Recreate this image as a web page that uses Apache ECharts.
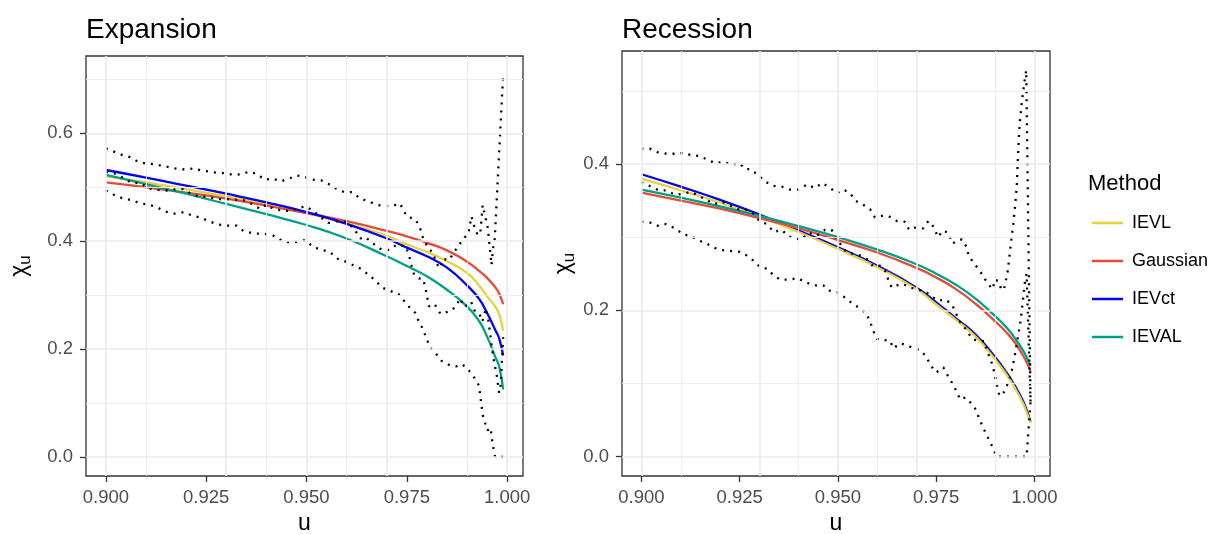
<!DOCTYPE html>
<html><head><meta charset="utf-8">
<script src="https://cdn.jsdelivr.net/npm/echarts@6.0.0/dist/echarts.min.js"></script>
<style>html,body{margin:0;padding:0;background:#fff}#c{width:1217px;height:534px}</style>
</head><body><div id="c"></div><script>
// ---------------- DATA ----------------
const methods = ['IEVL', 'Gaussian', 'IEVct', 'IEVAL'];

const xTicks = [0.9, 0.925, 0.95, 0.975, 1.0];
const xMinor = [0.9125, 0.9375, 0.9625, 0.9875];
const expYTicks = [0, 0.2, 0.4, 0.6];
const expYMinor = [0.1, 0.3, 0.5, 0.7];
const recYTicks = [0, 0.2, 0.4];
const recYMinor = [0.1, 0.3, 0.5];

// model curves, sampled at uCurve
const uCurve = [0.900, 0.910, 0.920, 0.930, 0.940, 0.950, 0.960, 0.970, 0.975, 0.980, 0.985, 0.990, 0.993, 0.995, 0.997, 0.998, 0.999];

const expIEVL     = [0.520, 0.509, 0.496, 0.483, 0.468, 0.452, 0.433, 0.410, 0.394, 0.380, 0.363, 0.341, 0.318, 0.298, 0.279, 0.265, 0.234];
const expGaussian = [0.509, 0.500, 0.490, 0.479, 0.466, 0.452, 0.437, 0.419, 0.409, 0.397, 0.383, 0.362, 0.345, 0.332, 0.315, 0.303, 0.283];
const expIEVct    = [0.532, 0.518, 0.503, 0.488, 0.472, 0.454, 0.432, 0.405, 0.388, 0.372, 0.351, 0.318, 0.293, 0.267, 0.236, 0.220, 0.188];
const expIEVAL    = [0.523, 0.506, 0.488, 0.469, 0.450, 0.430, 0.405, 0.372, 0.354, 0.335, 0.310, 0.279, 0.252, 0.223, 0.186, 0.168, 0.125];

const recIEVL     = [0.380, 0.364, 0.347, 0.328, 0.307, 0.284, 0.259, 0.229, 0.208, 0.187, 0.164, 0.133, 0.111, 0.094, 0.074, 0.061, 0.046];
const recGaussian = [0.361, 0.350, 0.339, 0.326, 0.312, 0.296, 0.279, 0.258, 0.245, 0.229, 0.209, 0.185, 0.169, 0.156, 0.139, 0.129, 0.117];
const recIEVct    = [0.386, 0.369, 0.351, 0.331, 0.309, 0.286, 0.261, 0.231, 0.211, 0.189, 0.167, 0.136, 0.114, 0.097, 0.077, 0.064, 0.048];
const recIEVAL    = [0.365, 0.354, 0.342, 0.329, 0.315, 0.300, 0.283, 0.263, 0.250, 0.235, 0.216, 0.192, 0.176, 0.162, 0.146, 0.136, 0.124];

// empirical estimate and confidence bounds (dotted)
const expUpperU = [0.9000,0.9020,0.9040,0.9060,0.9079,0.9099,0.9119,0.9139,0.9159,0.9179,0.9199,0.9218,0.9238,0.9257,0.9277,0.9297,0.9317,0.9337,0.9357,0.9376,0.9396,0.9416,0.9436,0.9456,0.9476,0.9496,0.9516,0.9536,0.9555,0.9575,0.9594,0.9614,0.9634,0.9654,0.9673,0.9693,0.9713,0.9733,0.9750,0.9772,0.9783,0.9790,0.9801,0.9815,0.9824,0.9832,0.9840,0.9855,0.9869,0.9882,0.9894,0.9903,0.9911,0.9918,0.9926,0.9933,0.9939,0.9946,0.9951,0.9954,0.9959,0.9961,0.9965,0.9969,0.9990];
const expUpperV = [0.572,0.566,0.560,0.556,0.548,0.544,0.543,0.540,0.537,0.534,0.533,0.535,0.531,0.529,0.527,0.526,0.523,0.524,0.529,0.525,0.514,0.516,0.511,0.516,0.522,0.519,0.514,0.513,0.506,0.497,0.491,0.491,0.479,0.474,0.468,0.465,0.465,0.470,0.446,0.440,0.424,0.407,0.390,0.378,0.359,0.350,0.367,0.365,0.381,0.395,0.407,0.413,0.446,0.428,0.412,0.413,0.467,0.444,0.427,0.409,0.372,0.356,0.387,0.404,0.708];

const expEmpU = [0.9000,0.9020,0.9044,0.9065,0.9086,0.9106,0.9131,0.9152,0.9173,0.9194,0.9214,0.9235,0.9252,0.9277,0.9301,0.9322,0.9343,0.9364,0.9384,0.9401,0.9417,0.9438,0.9459,0.9476,0.9497,0.9517,0.9538,0.9555,0.9575,0.9596,0.9617,0.9634,0.9646,0.9663,0.9688,0.9708,0.9725,0.9748,0.9756,0.9762,0.9768,0.9780,0.9791,0.9797,0.9805,0.9816,0.9822,0.9834,0.9857,0.9873,0.9882,0.9894,0.9910,0.9918,0.9930,0.9938,0.9947,0.9952,0.9959,0.9965,0.9974,0.9980,0.9984,0.9990];
const expEmpV = [0.528,0.526,0.517,0.508,0.508,0.498,0.495,0.494,0.496,0.497,0.487,0.482,0.483,0.478,0.478,0.477,0.476,0.469,0.460,0.468,0.460,0.457,0.456,0.460,0.465,0.456,0.443,0.434,0.437,0.436,0.425,0.405,0.408,0.397,0.384,0.384,0.394,0.390,0.372,0.354,0.338,0.331,0.330,0.311,0.279,0.284,0.280,0.265,0.270,0.279,0.294,0.278,0.288,0.272,0.267,0.251,0.275,0.260,0.220,0.186,0.152,0.119,0.134,0.222];

const expLowerU = [0.9000,0.9023,0.9044,0.9065,0.9086,0.9106,0.9127,0.9148,0.9173,0.9194,0.9214,0.9239,0.9260,0.9281,0.9301,0.9326,0.9343,0.9368,0.9393,0.9414,0.9434,0.9455,0.9476,0.9497,0.9517,0.9538,0.9559,0.9575,0.9592,0.9615,0.9638,0.9654,0.9671,0.9688,0.9708,0.9729,0.9753,0.9771,0.9780,0.9791,0.9799,0.9809,0.9823,0.9837,0.9857,0.9873,0.9888,0.9905,0.9919,0.9930,0.9933,0.9939,0.9945,0.9951,0.9959,0.9961,0.9965,0.9970,0.9990];
const expLowerV = [0.494,0.485,0.479,0.476,0.470,0.468,0.463,0.455,0.451,0.454,0.448,0.443,0.436,0.431,0.429,0.429,0.419,0.414,0.414,0.412,0.403,0.398,0.399,0.402,0.389,0.384,0.380,0.368,0.364,0.356,0.348,0.338,0.328,0.314,0.308,0.302,0.280,0.267,0.251,0.236,0.219,0.202,0.191,0.178,0.170,0.168,0.172,0.160,0.146,0.132,0.114,0.078,0.063,0.049,0.054,0.038,0.019,0.000,0.000];

const recUpperU = [0.9000,0.9021,0.9041,0.9063,0.9085,0.9106,0.9127,0.9148,0.9167,0.9188,0.9209,0.9230,0.9250,0.9264,0.9278,0.9298,0.9315,0.9336,0.9357,0.9378,0.9400,0.9421,0.9442,0.9459,0.9479,0.9497,0.9514,0.9531,0.9544,0.9565,0.9582,0.9594,0.9611,0.9628,0.9650,0.9671,0.9681,0.9694,0.9717,0.9730,0.9738,0.9747,0.9755,0.9766,0.9781,0.9792,0.9802,0.9815,0.9828,0.9832,0.9845,0.9860,0.9872,0.9887,0.9894,0.9899,0.9908,0.9916,0.9922,0.9927,0.9932,0.9940,0.9946,0.9951,0.9955,0.9958,0.9960,0.9963,0.9968,0.9974,0.9979,0.9990];
const recUpperV = [0.421,0.421,0.416,0.414,0.414,0.415,0.412,0.411,0.406,0.401,0.403,0.399,0.401,0.393,0.393,0.384,0.376,0.370,0.369,0.365,0.365,0.372,0.367,0.374,0.368,0.360,0.365,0.360,0.350,0.344,0.338,0.327,0.329,0.329,0.322,0.321,0.310,0.313,0.312,0.322,0.319,0.309,0.300,0.309,0.306,0.291,0.295,0.297,0.286,0.275,0.265,0.255,0.244,0.233,0.229,0.242,0.240,0.228,0.228,0.240,0.254,0.292,0.318,0.344,0.370,0.409,0.434,0.459,0.485,0.511,0.528,0.075];

const recEmpU = [0.9000,0.9021,0.9044,0.9063,0.9085,0.9106,0.9125,0.9145,0.9165,0.9185,0.9207,0.9226,0.9247,0.9264,0.9283,0.9300,0.9319,0.9336,0.9357,0.9374,0.9395,0.9406,0.9425,0.9446,0.9467,0.9484,0.9495,0.9510,0.9522,0.9539,0.9556,0.9573,0.9590,0.9607,0.9620,0.9628,0.9637,0.9649,0.9666,0.9683,0.9699,0.9713,0.9726,0.9741,0.9756,0.9773,0.9790,0.9801,0.9811,0.9826,0.9841,0.9858,0.9872,0.9879,0.9889,0.9896,0.9905,0.9911,0.9922,0.9930,0.9939,0.9945,0.9954,0.9964,0.9971,0.9976,0.9980,0.9990];
const recEmpV = [0.375,0.370,0.364,0.364,0.358,0.359,0.362,0.357,0.351,0.345,0.348,0.343,0.338,0.338,0.333,0.322,0.318,0.307,0.310,0.301,0.298,0.296,0.306,0.302,0.310,0.310,0.298,0.288,0.279,0.277,0.275,0.270,0.260,0.261,0.254,0.242,0.231,0.234,0.236,0.231,0.229,0.227,0.224,0.218,0.213,0.215,0.208,0.195,0.184,0.174,0.161,0.158,0.158,0.145,0.132,0.119,0.097,0.083,0.088,0.097,0.110,0.124,0.151,0.183,0.215,0.240,0.250,0.075];

const recLowerU = [0.9000,0.9021,0.9044,0.9063,0.9085,0.9106,0.9127,0.9148,0.9167,0.9188,0.9209,0.9230,0.9250,0.9268,0.9285,0.9302,0.9319,0.9336,0.9353,0.9377,0.9397,0.9419,0.9440,0.9463,0.9476,0.9497,0.9514,0.9533,0.9552,0.9572,0.9582,0.9590,0.9599,0.9611,0.9633,0.9641,0.9658,0.9677,0.9696,0.9709,0.9724,0.9737,0.9750,0.9768,0.9777,0.9790,0.9801,0.9811,0.9824,0.9837,0.9848,0.9862,0.9869,0.9879,0.9889,0.9904,0.9980,0.9990];
const recLowerV = [0.321,0.320,0.315,0.318,0.312,0.304,0.301,0.295,0.291,0.285,0.282,0.281,0.280,0.275,0.268,0.259,0.257,0.248,0.242,0.242,0.244,0.238,0.234,0.234,0.227,0.225,0.219,0.211,0.204,0.196,0.184,0.172,0.161,0.160,0.158,0.148,0.155,0.152,0.147,0.146,0.137,0.124,0.115,0.122,0.113,0.101,0.090,0.078,0.081,0.074,0.067,0.049,0.040,0.029,0.018,0.000,0.000,0.075];

// ---------------- STYLE ----------------
const FONT = '"Liberation Sans", Arial, Helvetica, sans-serif';
const methodColor = { IEVL: '#E6D23C', Gaussian: '#E64B35', IEVct: '#0000FF', IEVAL: '#00A087' };

const zip = (u, v) => u.map((x, i) => [x, v[i]]);

function gridLinesSeries(idx, yMajor, yMinor) {
  const major = { color: '#EBEBEB', width: 1.7, type: 'solid' };
  const minor = { color: '#EBEBEB', width: 0.9, type: 'solid' };
  const data = [];
  yMinor.forEach(v => data.push({ yAxis: v, lineStyle: minor }));
  xMinor.forEach(v => data.push({ xAxis: v, lineStyle: minor }));
  yMajor.forEach(v => data.push({ yAxis: v, lineStyle: major }));
  xTicks.forEach(v => data.push({ xAxis: v, lineStyle: major }));
  return {
    type: 'line', xAxisIndex: idx, yAxisIndex: idx, data: [], z: 1, silent: true,
    markLine: { silent: true, symbol: ['none', 'none'], label: { show: false }, animation: false,
      emphasis: { disabled: true }, data: data }
  };
}

function curveSeries(idx, name, vals) {
  return {
    type: 'line', name: name, xAxisIndex: idx, yAxisIndex: idx,
    data: zip(uCurve, vals), showSymbol: false, symbol: 'none',
    smooth: 0.5, color: methodColor[name],
    lineStyle: { width: 2.3, color: methodColor[name] }, z: 3
  };
}

function dotSeries(idx, u, v) {
  return {
    type: 'line', xAxisIndex: idx, yAxisIndex: idx, data: zip(u, v),
    showSymbol: false, symbol: 'none', silent: true,
    lineStyle: { width: 2.3, color: '#000', type: [2, 6], cap: 'butt' }, z: 4
  };
}

function xAxisCfg(idx) {
  return {
    type: 'value', gridIndex: idx, min: 0.89505, max: 1.00395,
    name: 'u', nameLocation: 'middle', nameGap: 32,
    nameTextStyle: { fontSize: 23, color: '#000', fontFamily: FONT },
    axisLine: { show: false, onZero: false },
    axisTick: { show: true, length: 6, customValues: xTicks, lineStyle: { color: '#333', width: 1.3 } },
    axisLabel: { show: true, customValues: xTicks, margin: 12, fontSize: 18.5, color: '#4D4D4D', fontFamily: FONT,
      formatter: v => v.toFixed(3) },
    splitLine: { show: false }
  };
}

function yAxisCfg(idx, min, max, ticks, gap) {
  return {
    type: 'value', gridIndex: idx, min: min, max: max,
    name: '{c|χ}{s|u}', nameLocation: 'middle', nameGap: gap, nameRotate: 90,
    nameTextStyle: { rich: {
      c: { fontSize: 23, color: '#000', fontFamily: FONT, lineHeight: 28 },
      s: { fontSize: 17, color: '#000', fontFamily: FONT, lineHeight: 12, verticalAlign: 'bottom' } } },
    axisLine: { show: false, onZero: false },
    axisTick: { show: true, length: 6, customValues: ticks, lineStyle: { color: '#333', width: 1.3 } },
    axisLabel: { show: true, customValues: ticks, margin: 13, fontSize: 18.5, color: '#4D4D4D', fontFamily: FONT,
      formatter: v => v.toFixed(1) },
    splitLine: { show: false }
  };
}

const series = [
  gridLinesSeries(0, expYTicks, expYMinor),
  gridLinesSeries(1, recYTicks, recYMinor),
  curveSeries(0, 'IEVL', expIEVL), curveSeries(0, 'Gaussian', expGaussian),
  curveSeries(0, 'IEVct', expIEVct), curveSeries(0, 'IEVAL', expIEVAL),
  curveSeries(1, 'IEVct', recIEVct), curveSeries(1, 'IEVL', recIEVL),
  curveSeries(1, 'Gaussian', recGaussian), curveSeries(1, 'IEVAL', recIEVAL),
  dotSeries(0, expUpperU, expUpperV), dotSeries(0, expEmpU, expEmpV), dotSeries(0, expLowerU, expLowerV),
  dotSeries(1, recUpperU, recUpperV), dotSeries(1, recEmpU, recEmpV), dotSeries(1, recLowerU, recLowerV)
];

const option = {
  animation: false,
  backgroundColor: '#ffffff',
  textStyle: { fontFamily: FONT },
  title: [
    { text: 'Expansion', left: 86, top: 16, padding: 0, textStyle: { fontSize: 28, fontWeight: 'normal', color: '#000', fontFamily: FONT } },
    { text: 'Recession', left: 622, top: 16, padding: 0, textStyle: { fontSize: 28, fontWeight: 'normal', color: '#000', fontFamily: FONT } },
    { text: 'Method', left: 1088, top: 173, padding: 0, textStyle: { fontSize: 22, fontWeight: 'normal', color: '#000', fontFamily: FONT } }
  ],
  legend: {
    orient: 'vertical', left: 1092, top: 213, padding: 0,
    itemWidth: 31, itemHeight: 2.5, itemGap: 18, icon: 'rect', selectedMode: false,
    data: methods,
    textStyle: { fontSize: 18, color: '#000', fontFamily: FONT, lineHeight: 20, padding: [0, 0, 0, 4] }
  },
  grid: [
    { left: 86, top: 56, width: 437, height: 420, show: true, borderColor: '#333333', borderWidth: 1.3, backgroundColor: 'transparent', containLabel: false, outerBoundsMode: 'none' },
    { left: 622, top: 51, width: 428, height: 425, show: true, borderColor: '#333333', borderWidth: 1.3, backgroundColor: 'transparent', containLabel: false, outerBoundsMode: 'none' }
  ],
  xAxis: [xAxisCfg(0), xAxisCfg(1)],
  yAxis: [yAxisCfg(0, -0.0354, 0.7434, expYTicks, 52), yAxisCfg(1, -0.0264, 0.5544, recYTicks, 44)],
  series: series
};

const chart = echarts.init(document.getElementById('c'), null, { renderer: 'canvas' });
chart.setOption(option);
</script></body></html>
